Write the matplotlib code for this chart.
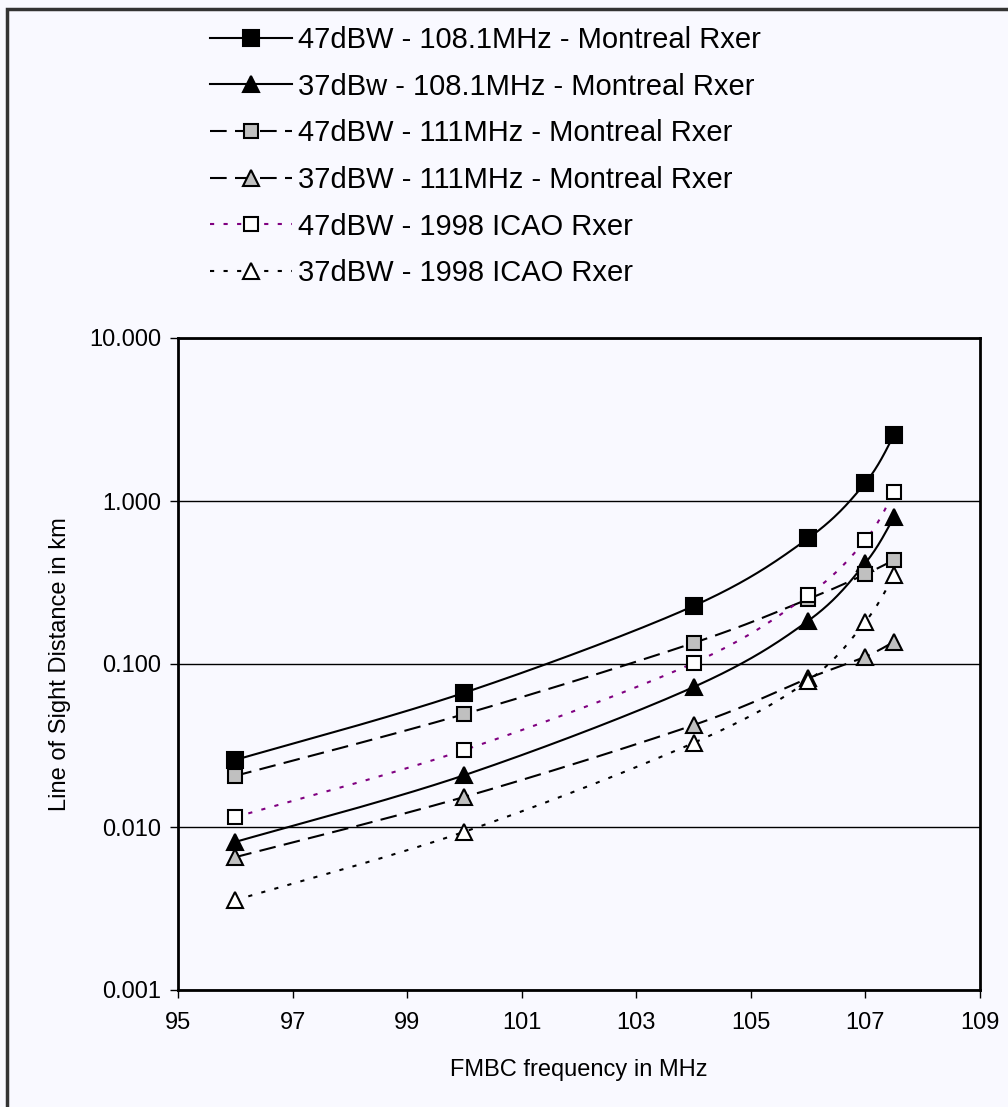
import numpy as np
import matplotlib
matplotlib.use("Agg")
import matplotlib.pyplot as plt
from matplotlib.lines import Line2D
from matplotlib.patches import Rectangle

plt.rcParams['font.family'] = ['Liberation Sans', 'DejaVu Sans']

freq = [96, 100, 104, 106, 107, 107.5]
s_47_1081_mtl = [0.0258, 0.0667, 0.227, 0.590, 1.295, 2.54]
s_37_1081_mtl = [0.0081, 0.0208, 0.0722, 0.184, 0.417, 0.798]
s_47_111_mtl = [0.0206, 0.0493, 0.1346, 0.250, 0.356, 0.435]
s_37_111_mtl = [0.00653, 0.0153, 0.0422, 0.0817, 0.111, 0.137]
s_47_icao = [0.0115, 0.0297, 0.1014, 0.265, 0.576, 1.135]
s_37_icao = [0.00356, 0.00935, 0.0328, 0.079, 0.182, 0.351]

labels = ["47dBW - 108.1MHz - Montreal Rxer",
          "37dBw - 108.1MHz - Montreal Rxer",
          "47dBW - 111MHz - Montreal Rxer",
          "37dBW - 111MHz - Montreal Rxer",
          "47dBW - 1998 ICAO Rxer",
          "37dBW - 1998 ICAO Rxer"]
xticks = [95, 97, 99, 101, 103, 105, 107, 109]
yticks = [0.001, 0.01, 0.1, 1, 10]

BG = '#F9F9FF'
GRAY = '#C0C0C0'
PURPLE = '#800080'


def smooth(xs, ys, n=40):
    # Excel-like smoothed line: cubic Bezier through points (in display-ish space)
    sx, sy = 57.3, 163.0
    P = np.column_stack([np.asarray(xs, float) * sx, np.log10(ys) * sy])
    out = [P[0]]
    m = len(P)
    for i in range(m - 1):
        p0 = P[i - 1] if i > 0 else P[i]
        p1 = P[i]
        p2 = P[i + 1]
        p3 = P[i + 2] if i + 2 < m else P[i + 1]
        c1 = p1 + (p2 - p0) / 6.0
        c2 = p2 - (p3 - p1) / 6.0
        t = np.linspace(0, 1, n)[1:, None]
        seg = ((1 - t) ** 3) * p1 + 3 * ((1 - t) ** 2) * t * c1 + 3 * (1 - t) * t ** 2 * c2 + t ** 3 * p2
        out.extend(seg)
    out = np.array(out)
    return out[:, 0] / sx, 10 ** (out[:, 1] / sy)


fig = plt.figure(figsize=(10.08, 11.07), dpi=100, facecolor=BG)
ax = fig.add_axes([178 / 1008, 1 - 990 / 1107, (980 - 178) / 1008, (990 - 338) / 1107])
ax.set_facecolor(BG)

series = [s_47_1081_mtl, s_37_1081_mtl, s_47_111_mtl, s_37_111_mtl, s_47_icao, s_37_icao]
styles = [
    dict(color='black', ls='-', marker='s', mfc='black', ms=11),
    dict(color='black', ls='-', marker='^', mfc='black', ms=12),
    dict(color='black', ls=(0, (8, 4)), marker='s', mfc=GRAY, ms=10.5),
    dict(color='black', ls=(0, (8, 4)), marker='^', mfc=GRAY, ms=12),
    dict(color=PURPLE, ls=(0, (2, 4.5)), marker='s', mfc='white', ms=10.5),
    dict(color='black', ls=(0, (2, 4.5)), marker='^', mfc='white', ms=12),
]

handles = []
for ys, st, lab in zip(series, styles, labels):
    sx_, sy_ = smooth(freq, ys)
    ax.plot(sx_, sy_, color=st['color'], ls=st['ls'], lw=1.5, zorder=3)
    ax.plot(freq, ys, ls='none', marker=st['marker'], mfc=st['mfc'], mec='black',
            mew=1.5, ms=st['ms'], zorder=4)
    handles.append(Line2D([], [], color=st['color'], ls=st['ls'], lw=1.5,
                          marker=st['marker'], mfc=st['mfc'], mec='black', mew=1.5,
                          ms=st['ms']))

ax.set_yscale('log')
ax.set_xlim(95, 109)
ax.set_ylim(0.001, 10)
ax.set_xticks(xticks)
ax.set_xticklabels([str(v) for v in xticks])
ax.set_yticks(yticks)
ax.set_yticklabels(['%.3f' % v for v in yticks])
ax.yaxis.set_minor_locator(matplotlib.ticker.NullLocator())
ax.tick_params(axis='both', direction='out', length=6, width=1, labelsize=17, pad=6)
ax.tick_params(axis='x', pad=10)
ax.grid(axis='y', which='major', color='black', lw=1)
ax.set_axisbelow(True)
for sp in ax.spines.values():
    sp.set_linewidth(2)
    sp.set_color('black')

ax.set_xlabel('FMBC frequency in MHz', fontsize=17, labelpad=18)
ax.set_ylabel('Line of Sight Distance in km', fontsize=17, labelpad=13)

fig.legend(handles, labels, loc='upper left', bbox_to_anchor=(210 / 1008, 1 - 26 / 1107),
           frameon=False, fontsize=21, handlelength=2.8, handletextpad=0.2,
           labelspacing=0.64, borderpad=0, borderaxespad=0)

fig.patches.append(Rectangle((7 / 1008, -0.1), 1.2, 1 - 9 / 1107 + 0.1, transform=fig.transFigure,
                             fill=False, edgecolor='#333333', lw=2.5, zorder=10))

fig.savefig('out.png', dpi=100, facecolor=BG)
